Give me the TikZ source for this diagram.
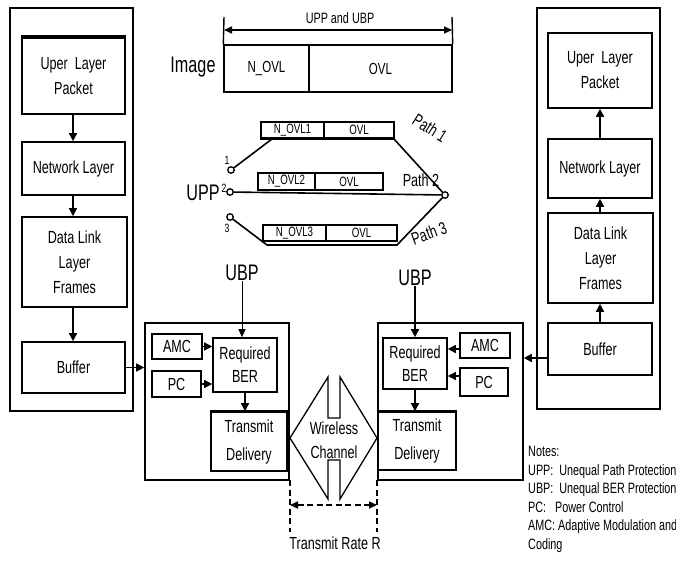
\documentclass[tikz,border=0pt]{standalone}
\usepackage{fontspec}
\setmainfont[FakeStretch=0.72]{Liberation Sans}
\usetikzlibrary{arrows.meta}
\begin{document}
\begin{tikzpicture}[x=1pt,y=-1pt,
  box/.style={draw,line width=1.6pt,inner sep=0pt,align=center,fill=white,
    font=\fontsize{17.5}{25}\selectfont},
  frame/.style={draw,line width=1.6pt,inner sep=0pt},
  cell/.style={draw,line width=1.4pt,inner sep=0pt,fill=white,font=\fontsize{16}{18}\selectfont},
  pcell/.style={draw,line width=1.3pt,inner sep=0pt,fill=white,font=\fontsize{13.5}{14}\selectfont},
  arr/.style={line width=1.5pt,-{Triangle[length=8pt,width=8pt]}},
  thinarr/.style={line width=1pt,-{Triangle[length=8pt,width=7pt]}},
  dblarr/.style={line width=1.5pt,{Triangle[length=8pt,width=7pt]}-{Triangle[length=8pt,width=7pt]}},
  pline/.style={line width=1.6pt},
  term/.style={circle,draw,line width=1.3pt,minimum size=6.5pt,inner sep=0pt,fill=white},
  lbl/.style={inner sep=0pt,font=\fontsize{17.5}{24}\selectfont,align=center},
  biglbl/.style={inner sep=0pt,font=\fontsize{22.5}{24}\selectfont},
  small/.style={inner sep=0pt,font=\fontsize{12}{12}\selectfont},
  dsh/.style={line width=1.3pt,dash pattern=on 6pt off 3.5pt},
]
\useasboundingbox (0,0) rectangle (676,572);
\clip (0,0) rectangle (676,572);

% ---------- left column ----------
\node[frame,minimum width=123pt,minimum height=403pt] (outerL) at (71.5,209.5) {};
\node[box,minimum width=103pt,minimum height=76pt] (ulpL) at (73.5,76) {Uper\ \ Layer\\Packet};
\draw[line width=3.5pt] (ulpL.north west) -- (ulpL.north east);
\node[box,minimum width=103pt,minimum height=53pt] (netL) at (73.5,168.5) {Network Layer};
\node[box,minimum width=105pt,minimum height=90pt] (dllL) at (74.5,262) {Data Link\\Layer\\Frames};
\node[box,minimum width=103pt,minimum height=51pt] (bufL) at (73.5,367.5) {Buffer};
\draw[arr] (ulpL.south -| 73,0) -- (netL.north -| 73,0);
\draw[arr] (netL.south -| 73,0) -- (dllL.north -| 73,0);
\draw[arr] (dllL.south -| 73,0) -- (bufL.north -| 73,0);

% ---------- right column ----------
\node[frame,minimum width=123pt,minimum height=401pt] (outerR) at (598.5,208.5) {};
\node[box,minimum width=104pt,minimum height=75pt] (ulpR) at (600,70.5) {Uper\ \ Layer\\Packet};
\node[box,minimum width=104pt,minimum height=59pt] (netR) at (600,168.5) {Network Layer};
\node[box,minimum width=105pt,minimum height=90pt] (dllR) at (600.5,258) {Data Link\\Layer\\Frames};
\node[box,minimum width=104pt,minimum height=52pt] (bufR) at (600,349) {Buffer};
\draw[arr] (bufR.north -| 600,0) -- (dllR.south -| 600,0);
\draw[arr] (dllR.north -| 600,0) -- (netR.south -| 600,0);
\draw[arr] (netR.north -| 600,0) -- (ulpR.south -| 600,0);

% ---------- top: image ----------
\node[cell,minimum width=85pt,minimum height=47pt] (imgA) at (266.5,68.5) {N\_OVL};
\node[cell,minimum width=143pt,minimum height=47pt] (imgB) at (380.5,68.5) {OVL};
\coordinate (brL) at (224,17);
\coordinate (brR) at (452,17);
\draw[line width=1.4pt] (imgA.north west) -- (brL);
\draw[line width=1.4pt] (imgB.north east) -- (brR);
\coordinate (baL) at (224,30);
\coordinate (baR) at (452,30);
\draw[dblarr] (baL) -- (baR);
\node[inner sep=1pt,font=\fontsize{15}{16}\selectfont] (uppubp) at (340,18) {UPP and UBP};
\node[biglbl] (imglbl) at (193,67) {Image};

% ---------- paths ----------
\node[term] (t1) at (231,170) {};
\node[term] (t2) at (230,192) {};
\node[term] (t3) at (230,217) {};
\node[term] (tR) at (445,195) {};
\coordinate (p1l) at (272,139);
\coordinate (p1r) at (394,139);
\coordinate (p3l) at (267,245);
\coordinate (p3r) at (397,245);
\draw[pline] (t1) -- (p1l) -- (p1r) -- (tR);
\draw[pline] (t2) -- (tR);
\draw[pline] (t3) -- (p3l) -- (p3r) -- (tR);
\node[pcell,minimum width=63pt,minimum height=16pt] (p1a) at (292.5,130) {N\_OVL1};
\node[pcell,minimum width=70pt,minimum height=16pt] (p1b) at (359,130) {OVL};
\draw[line width=3pt] (p1a.south west) -- (p1b.south east);
\node[pcell,minimum width=57pt,minimum height=17pt] (p2a) at (286.5,181.5) {N\_OVL2};
\node[pcell,minimum width=68pt,minimum height=17pt] (p2b) at (349,181.5) {OVL};
\node[pcell,minimum width=63pt,minimum height=16pt] (p3a) at (294.5,233) {N\_OVL3};
\node[pcell,minimum width=71pt,minimum height=16pt] (p3b) at (361.5,233) {OVL};
\node[small] (n1) at (227,160) {1};
\node[small] (n2) at (224,188) {2};
\node[small] (n3) at (227,228) {3};
\node[biglbl] (upp) at (203,193) {UPP};
\node[lbl,rotate=-32] (path1) at (430,128) {Path 1};
\node[lbl] (path2) at (421,180) {Path 2};
\node[lbl,rotate=20] (path3) at (429,233) {Path 3};

% ---------- left transmitter ----------
\node[frame,minimum width=144pt,minimum height=157pt] (midL) at (217,401.5) {};
\node[box,minimum width=50pt,minimum height=25pt] (amcL) at (177,346.5) {AMC};
\node[box,minimum width=49pt,minimum height=26pt] (pcL) at (176.5,384) {PC};
\node[box,minimum width=64pt,minimum height=54pt,font=\fontsize{17.5}{23}\selectfont] (berL) at (245,365) {Required\\BER};
\node[box,minimum width=76pt,minimum height=59pt,font=\fontsize{17.5}{28}\selectfont] (tdL) at (249,441.5) {Transmit\\Delivery};
\draw[line width=3pt] (tdL.north west) -- (tdL.north east);
\node[biglbl] (ubpL) at (242,273) {UBP};
\draw[thinarr] (ubpL.south) -- (berL.north -| ubpL.south);
\draw[arr] (amcL.east) -- (amcL.east -| berL.west);
\draw[arr] (pcL.east) -- (pcL.east -| berL.west);
\draw[arr] (berL.south) -- (berL.south |- tdL.north);
\draw[arr] (bufL.east) -- (bufL.east -| midL.west);

% ---------- right transmitter ----------
\node[frame,minimum width=145pt,minimum height=157pt] (midR) at (450.5,401.5) {};
\node[box,minimum width=64pt,minimum height=51pt,font=\fontsize{17.5}{23}\selectfont] (berR) at (415,363.5) {Required\\BER};
\node[box,minimum width=50pt,minimum height=25pt] (amcR) at (485,345.5) {AMC};
\node[box,minimum width=48pt,minimum height=28pt] (pcR) at (484,382) {PC};
\node[box,minimum width=78pt,minimum height=58pt,font=\fontsize{17.5}{28}\selectfont] (tdR) at (417,441) {Transmit\\Delivery};
\draw[line width=3pt] (tdR.north west) -- (tdR.north east);
\node[biglbl] (ubpR) at (415,278) {UBP};
\draw[arr] (ubpR.south) -- (berR.north -| ubpR.south);
\coordinate (amcRa) at (460,349);
\coordinate (pcRa) at (460,376);
\draw[arr] (amcRa) -- (amcRa -| berR.east);
\draw[arr] (pcRa) -- (pcRa -| berR.east);
\draw[arr] (berR.south) -- (berR.south |- tdR.north);
\coordinate (bufRa) at (548,358);
\draw[arr] (bufRa) -- (bufRa -| midR.east);

% ---------- wireless channel ----------
\draw[line width=1.3pt] (290,438) -- (328,377) -- (328,418) -- (340,418) -- (340,377)
  -- (377,438) -- (340,499) -- (340,460) -- (328,460) -- (328,499) -- cycle;
\node[lbl] (wc) at (334,440) {Wireless\\Channel};

% ---------- transmit rate ----------
\coordinate (dLt) at (290,480);
\coordinate (dLb) at (290,532);
\coordinate (dRt) at (377,480);
\coordinate (dRb) at (377,532);
\draw[dsh] (dLt) -- (dLb);
\draw[dsh] (dRt) -- (dRb);
\coordinate (trL) at (290,505);
\coordinate (trR) at (377,505);
\draw[dblarr,dash pattern=on 6pt off 3.5pt] (trL) -- (trR);
\node[lbl] (trate) at (335,543) {Transmit Rate R};

% ---------- notes ----------
\node[anchor=north west,inner sep=0pt,align=left,font=\fontsize{15}{18.5}\selectfont] (notes) at (528,446)
 {Notes:\\UPP:\ \ Unequal Path Protection\\UBP:\ \ Unequal BER Protection\\PC:\ \ \ Power Control\\AMC: Adaptive Modulation and\\Coding};
\end{tikzpicture}
\end{document}
